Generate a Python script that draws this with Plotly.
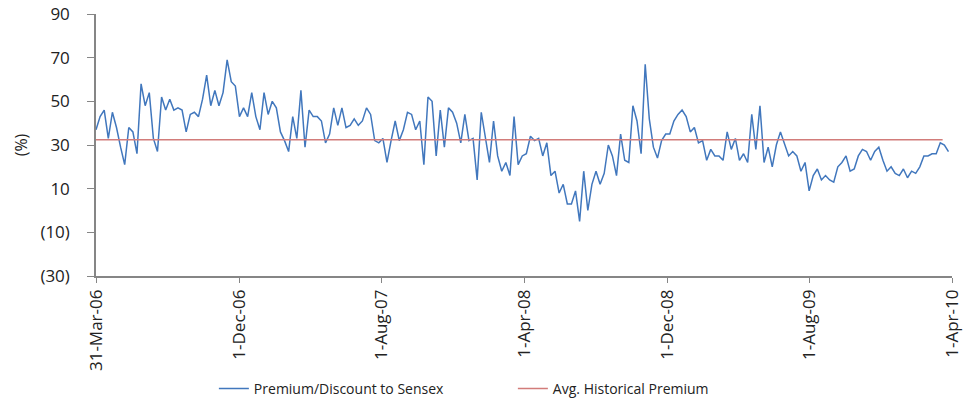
import pandas as pd
import plotly.graph_objects as go

# Weekly premium/discount of the index vs. Sensex (%), starting 31-Mar-2006
premium_values = [
    37, 43, 46, 33, 45, 38, 29, 21, 38, 36,
    26, 58, 48, 54, 33, 27, 52, 46, 51, 46,
    47, 46, 36, 44, 45, 43, 51, 62, 48, 55,
    48, 54, 69, 59, 57, 43, 47, 43, 54, 43,
    37, 54, 44, 50, 47, 36, 32, 27, 43, 33,
    55, 29, 46, 43, 43, 41, 31, 35, 47, 39,
    47, 38, 39, 42, 39, 41, 47, 44, 32, 31,
    33, 22, 32, 41, 32, 37, 45, 44, 37, 41,
    21, 52, 50, 25, 46, 29, 47, 45, 40, 31,
    44, 32, 33, 14, 45, 34, 22, 41, 25, 18,
    22, 16, 43, 21, 25, 26, 34, 32, 33, 25,
    31, 16, 18, 8, 12, 3, 3, 9, -5, 18,
    0, 12, 18, 12, 17, 30, 25, 16, 35, 23,
    22, 48, 41, 26, 67, 42, 29, 24, 32, 35,
    35, 41, 44, 46, 43, 36, 38, 31, 32, 23,
    28, 25, 25, 23, 36, 28, 33, 23, 26, 22,
    44, 28, 48, 22, 29, 20, 30, 36, 30, 25,
    27, 25, 18, 22, 9, 16, 19, 14, 16, 14,
    13, 20, 22, 25, 18, 19, 25, 28, 27, 23,
    27, 29, 23, 18, 20, 17, 16, 19, 15, 18,
    17, 20, 25, 25, 26, 26, 31, 30, 27,
]
premium_dates = pd.date_range("2006-03-31", periods=len(premium_values), freq="7D")

# Long-run average premium
avg_premium = 32.4
avg_dates = ["2006-03-31", "2010-03-16"]

# Axis ticks
x_tick_dates = ["2006-03-31", "2006-12-01", "2007-08-01", "2008-04-01",
                "2008-12-01", "2009-08-01", "2010-04-01"]
x_tick_labels = ["31-Mar-06", "1-Dec-06", "1-Aug-07", "1-Apr-08",
                 "1-Dec-08", "1-Aug-09", "1-Apr-10"]
y_tick_values = [-30, -10, 10, 30, 50, 70, 90]
y_tick_labels = ["(30)", "(10)", "10", "30", "50", "70", "90"]

BLUE = "#4177BD"
RED = "#D27C7A"
AXIS = "#868686"
TEXT = "#222222"
FONT = "Open Sans"

fig = go.Figure()
fig.add_trace(go.Scatter(
    x=premium_dates, y=premium_values, mode="lines",
    name="Premium/Discount to Sensex",
    line=dict(color=BLUE, width=1.5),
))
fig.add_trace(go.Scatter(
    x=avg_dates, y=[avg_premium] * len(avg_dates), mode="lines",
    name="Avg. Historical Premium",
    line=dict(color=RED, width=1.5),
))

fig.update_layout(
    width=973, height=408,
    margin=dict(l=96, r=21, t=14, b=132, autoexpand=False),
    paper_bgcolor="white", plot_bgcolor="white",
    font=dict(family=FONT, size=14, color=TEXT),
    showlegend=True,
    legend=dict(
        orientation="h", x=0.487, xanchor="center",
        y=-0.431, yanchor="middle",
        font=dict(size=14, color=TEXT),
        entrywidth=254, entrywidthmode="pixels",
        itemwidth=30,
    ),
    xaxis=dict(
        type="date",
        range=["2006-03-31", "2010-04-01"],
        tickmode="array", tickvals=x_tick_dates, ticktext=x_tick_labels,
        tickangle=-90,
        showgrid=False, zeroline=False, automargin=False,
        showline=True, linecolor=AXIS, linewidth=1.5,
        ticks="outside", ticklen=5, tickcolor=AXIS, tickwidth=1,
        tickfont=dict(size=17, color=TEXT),
    ),
    yaxis=dict(
        range=[-30, 90],
        tickmode="array", tickvals=y_tick_values, ticktext=y_tick_labels,
        showgrid=False, zeroline=False, automargin=False,
        showline=True, linecolor=AXIS, linewidth=1.5,
        ticks="outside", ticklen=7, tickcolor=AXIS, tickwidth=1,
        ticklabelstandoff=14,
        tickfont=dict(size=17, color=TEXT),
        title=dict(text="(%)", standoff=9, font=dict(size=16, color=TEXT)),
    ),
)

fig.write_html("out.html")
